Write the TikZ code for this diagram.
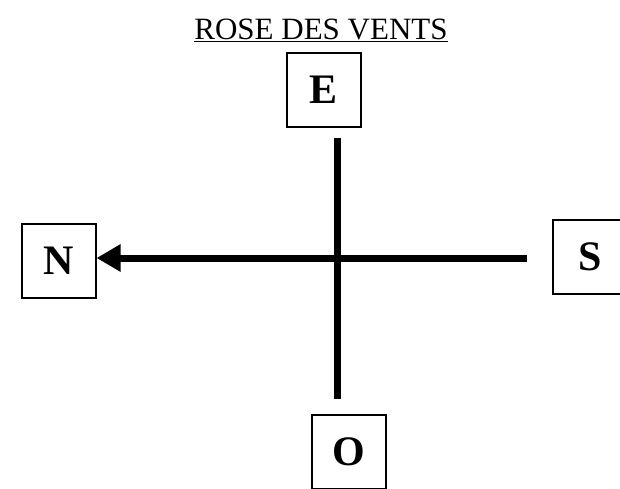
\documentclass[tikz,border=0pt]{standalone}
\usepackage{fontspec}
\setmainfont{Liberation Serif}
\usetikzlibrary{arrows.meta}
\tikzset{
  caseDir/.style={draw, line width=1.1pt, minimum width=74pt, minimum height=74pt,
    inner sep=0pt, font=\fontsize{42}{42}\selectfont\bfseries},
  axe/.style={line width=7pt}
}
\begin{document}
\begin{tikzpicture}[x=1pt,y=-1pt]
            \useasboundingbox (0,0) rectangle (620,488);
            \coordinate (c) at (337,258);
            \node[anchor=base, font=\fontsize{31}{31}\selectfont] (titre) at (321,39) {\underline{ROSE DES VENTS}};
            \node[caseDir] (E) at (324,90) {E};
            \node[caseDir] (N) at (59,261) {N};
            \node[caseDir] (S) at (590,257) {S};
            \node[caseDir] (O) at (349,452) {O};
            \draw[axe] ([yshift=-10pt]E.south -| c) -- ([yshift=15pt]O.north -| c);
            \draw[axe, -{Triangle[length=24pt,width=26pt]}] ([xshift=-25pt]S.west |- c) -- (N.east |- c);
        \end{tikzpicture}
\end{document}
